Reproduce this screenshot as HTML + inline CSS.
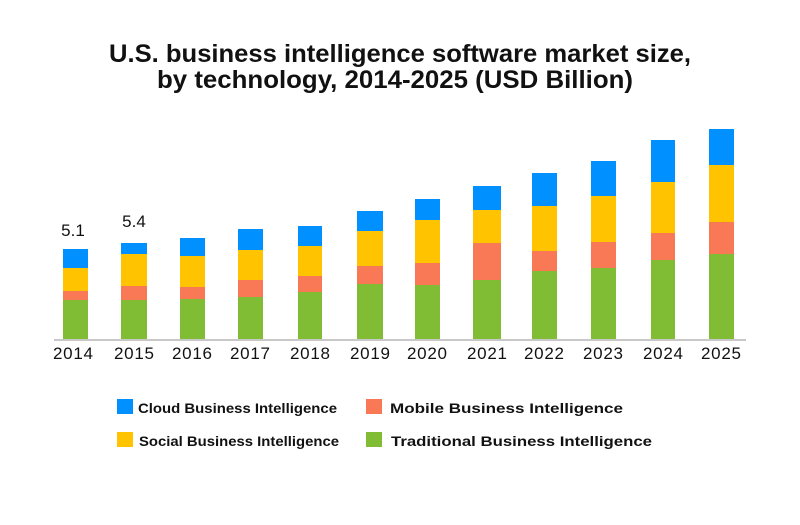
<!DOCTYPE html>
<html><head><meta charset="utf-8"><style>
html,body{margin:0;padding:0;background:#fff;width:800px;height:525px;overflow:hidden}
svg{display:block;font-family:"Liberation Sans",sans-serif}
</style></head><body>
<svg width="800" height="525" viewBox="0 0 800 525">
<text x="400" y="62" text-anchor="middle" font-size="25" font-weight="bold" textLength="582" lengthAdjust="spacingAndGlyphs" fill="#111">U.S. business intelligence software market size,</text>
<text x="395" y="88" text-anchor="middle" font-size="25" font-weight="bold" textLength="476" lengthAdjust="spacingAndGlyphs" fill="#111">by technology, 2014-2025 (USD Billion)</text>
<g id="bars"></g>
<line x1="54" y1="340" x2="746" y2="340" stroke="#c8c8c8" stroke-width="2"/>
<g font-size="17" fill="#111" text-anchor="middle">
<text x="73" y="359" textLength="40">2014</text><text x="134" y="359" textLength="40">2015</text><text x="192" y="359" textLength="40">2016</text><text x="250" y="359" textLength="40">2017</text><text x="310" y="359" textLength="40">2018</text><text x="370" y="359" textLength="40">2019</text><text x="427" y="359" textLength="40">2020</text><text x="487" y="359" textLength="40">2021</text><text x="544" y="359" textLength="40">2022</text><text x="603" y="359" textLength="40">2023</text><text x="663" y="359" textLength="40">2024</text><text x="721" y="359" textLength="40">2025</text>
<text x="73" y="236">5.1</text><text x="134" y="227">5.4</text>
</g>
<rect x="117" y="399" width="16" height="15" fill="#0090ff"/>
<rect x="366" y="399" width="16" height="15" fill="#f97856"/>
<rect x="117" y="432" width="16" height="15" fill="#ffc300"/>
<rect x="366" y="432" width="16" height="15" fill="#80bd34"/>
<g font-size="13.5" font-weight="bold" fill="#111">
<text x="138" y="413" textLength="199" lengthAdjust="spacingAndGlyphs">Cloud Business Intelligence</text>
<text x="390" y="413" textLength="233" lengthAdjust="spacingAndGlyphs">Mobile Business Intelligence</text>
<text x="139" y="446" textLength="200" lengthAdjust="spacingAndGlyphs">Social Business Intelligence</text>
<text x="391" y="446" textLength="261" lengthAdjust="spacingAndGlyphs">Traditional Business Intelligence</text>
</g>
</svg>
<script>
var d=[[63,88,249,268,291,300],[121,147,243,254,286,300],[180,205,238,256,287,299],[238,263,229,250,280,297],[298,322,226,246,276,292],[357,383,211,231,266,284],[415,440,199,220,263,285],[473,501,186,210,243,280],[532,557,173,206,251,271],[591,616,161,196,242,268],[651,675,140,182,233,260],[709,734,129,165,222,254]];
var c=["#0090ff","#ffc300","#f97856","#80bd34"],g=document.getElementById("bars"),s="";
d.forEach(function(b){var y=[b[2],b[3],b[4],b[5],340];for(var i=0;i<4;i++)s+='<rect x="'+b[0]+'" y="'+y[i]+'" width="'+(b[1]-b[0])+'" height="'+(y[i+1]-y[i])+'" fill="'+c[i]+'"/>';});
g.innerHTML=s;
</script>
</body></html>
